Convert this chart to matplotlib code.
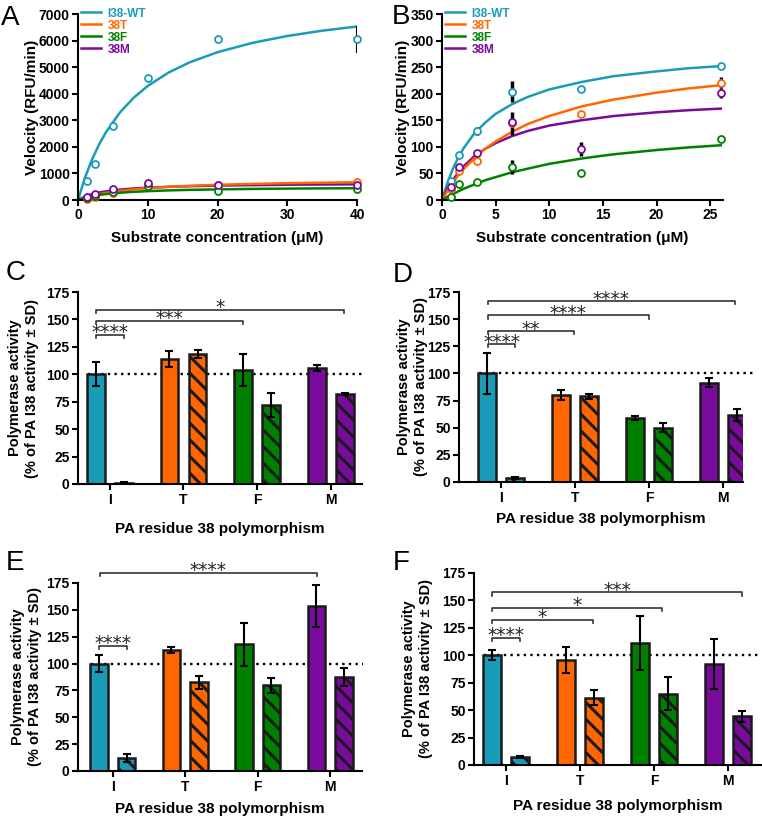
import matplotlib
matplotlib.use("Agg")
import matplotlib.pyplot as plt

W, H = 762, 824

plt.rcParams['font.family'] = ['Liberation Sans', 'DejaVu Sans']
plt.rcParams['font.weight'] = 'bold'
plt.rcParams['axes.labelweight'] = 'bold'
plt.rcParams['axes.linewidth'] = 1.5
plt.rcParams['xtick.major.width'] = 1.5
plt.rcParams['ytick.major.width'] = 1.5
plt.rcParams['xtick.major.size'] = 4
plt.rcParams['ytick.major.size'] = 4
plt.rcParams['hatch.linewidth'] = 2.2

TEAL = '#1a9bb8'
ORANGE = '#ff6600'
GREEN = '#008000'
PURPLE = '#7a0a9c'
names = ['I38-WT', '38T', '38F', '38M']
colors = [TEAL, ORANGE, GREEN, PURPLE]

# --- panel A: velocity vs substrate (RFU/min) ---
a_conc = [1.25, 2.5, 5, 10, 20, 40]
a_wt = [720, 1350, 2770, 4580, 6070, 6050]
a_38t = [40, 110, 250, 530, 564, 665]
a_38f = [60, 150, 300, 520, 350, 400]
a_38m = [100, 213, 400, 650, 560, 560]
a_err_wt = [0, 0, 0, 0, 0, 510]
a_err_none = [0, 0, 0, 0, 0, 0]
# fitted curves
a_fit_x = [0, 1, 2, 3, 4, 6, 8, 10, 13, 16, 20, 25, 30, 35, 40]
a_fit_wt = [0, 840, 1519, 2079, 2548, 3292, 3854, 4293, 4799, 5180, 5563, 5913, 6172, 6371, 6529]
a_fit_38t = [0, 89, 160, 218, 267, 343, 400, 444, 495, 533, 571, 606, 632, 651, 667]
a_fit_38f = [0, 83, 143, 188, 222, 273, 308, 333, 361, 381, 400, 417, 429, 438, 444]
a_fit_38m = [0, 130, 217, 279, 325, 390, 433, 464, 497, 520, 542, 560, 574, 583, 591]

# --- panel B ---
b_conc = [0.8125, 1.625, 3.25, 6.5, 13, 26]
b_wt = [36, 84, 130, 204, 208, 253]
b_38t = [20, 55, 74, 144, 161, 221]
b_38f = [5, 30, 33, 62, 51, 114]
b_38m = [25, 63, 89, 146, 96, 201]
b_err_wt = [0, 0, 8, 19, 0, 5]
b_err_38t = [0, 0, 0, 22, 0, 10]
b_err_38f = [0, 0, 0, 14, 0, 0]
b_err_38m = [0, 0, 0, 0, 14, 10]
b_fit_x = [0, 0.5, 1, 1.5, 2, 3, 4, 5, 6.5, 8, 10, 13, 16, 20, 23, 26]
b_fit_wt = [0, 32, 58, 79, 97, 125, 145, 162, 180, 194, 208, 222, 233, 242, 248, 252]
b_fit_38t = [0, 17, 32, 46, 58, 78, 96, 110, 128, 143, 158, 176, 189, 202, 210, 216]
b_fit_38f = [0, 6, 11, 16, 21, 29, 37, 43, 52, 59, 68, 78, 86, 94, 99, 103]
b_fit_38m = [0, 21, 37, 51, 63, 82, 96, 107, 120, 130, 140, 150, 158, 165, 169, 172]

# --- panels C-F: polymerase activity (% of PA I38) ---
groups = ['I', 'T', 'F', 'M']
c_solid = [100, 114, 104, 105.5]
c_solid_err = [11, 7.5, 14.5, 2.7]
c_hatch = [1, 118.5, 72, 82]
c_hatch_err = [0.7, 4, 11, 1]
c_comp = [(-0.19, 0.19, 136, '****'), (-0.19, 1.81, 149, '***'), (-0.19, 3.18, 159, '*')]

d_solid = [100, 80, 59, 91.5]
d_solid_err = [18.5, 4.5, 2, 4]
d_hatch = [4, 79, 50, 62]
d_hatch_err = [1, 2.5, 4.3, 5.5]
d_comp = [(-0.18, 0.19, 127, '****'), (-0.18, 0.99, 139, '**'),
          (-0.18, 2.0, 153.5, '****'), (-0.18, 3.16, 166.5, '****')]

e_solid = [100, 113, 118, 153.5]
e_solid_err = [7.6, 2.8, 20, 19.5]
e_hatch = [12, 82.5, 79.7, 87.5]
e_hatch_err = [3.7, 6.2, 7, 8.5]
e_comp = [(-0.19, 0.19, 116.7, '****'), (-0.18, 2.82, 184.3, '****')]

f_solid = [100, 95.5, 111.5, 92]
f_solid_err = [4.6, 12, 24.6, 23]
f_hatch = [7.3, 61.4, 65, 44.4]
f_hatch_err = [1.2, 6.7, 15, 5.2]
f_comp = [(-0.19, 0.19, 115.8, '****'), (-0.19, 1.18, 132.5, '*'),
          (-0.19, 2.11, 143.1, '*'), (-0.19, 3.19, 157.4, '***')]


def px_axes(fig, left, top, right, bottom):
    return fig.add_axes([left / W, 1 - bottom / H, (right - left) / W, (bottom - top) / H])


def style_axes(ax):
    for side in ['top', 'right']:
        ax.spines[side].set_visible(False)
    ax.tick_params(labelsize=10, pad=2)


def label_x(ax, px):
    # right edge of the y label block, in pixels from figure left
    pos = ax.get_position()
    return (px / W - pos.x0) / pos.width


def kinetic_panel(ax, conc, pts, errs, fit_x, fits, xlim, ylim, xstep, ystep, err_lw, ylab_px):
    order = [0, 2, 3, 1]
    lines = {}
    for i in range(4):
        ln, = ax.plot(fit_x, fits[i], color=colors[i], lw=1.8, label=names[i], zorder=2 + order[i] * 0.1)
        lines[i] = ln
    for i in range(4):
        ax.errorbar(conc, pts[i], yerr=errs[i], fmt='none', ecolor='black', elinewidth=err_lw, zorder=3)
    for i in range(4):
        ax.plot(conc, pts[i], 'o', mfc='white', mec=colors[i], ms=5, mew=1.3, zorder=4, clip_on=False)
    ax.set_xlim(*xlim)
    ax.set_ylim(*ylim)
    ax.set_xticks(range(0, int(xlim[1]) + 1, xstep))
    ax.set_yticks(range(0, ylim[1] + 1, ystep))
    style_axes(ax)
    ax.set_xlabel('Substrate concentration (\u03bcM)', fontsize=11, labelpad=6)
    ax.set_ylabel('Velocity (RFU/min)', fontsize=11)
    ax.yaxis.set_label_coords(label_x(ax, ylab_px), 0.5)
    ax.legend([lines[i] for i in range(4)], names, loc='upper left', bbox_to_anchor=(-0.005, 1.06),
              frameon=False, fontsize=8.5, handlelength=1.7, handletextpad=0.5,
              labelspacing=0.0, labelcolor='linecolor', borderaxespad=0)


def bar_panel(ax, solid, solid_err, hatch, hatch_err, comps, xlim, xlab_pad, ylab_px):
    x = list(range(len(groups)))
    ax.hlines(100, -0.3, 3.45, colors='black', linestyles=(0, (1, 1.8)), lw=1.7, zorder=1, clip_on=False)
    ekw = dict(elinewidth=1.5, capthick=1.5, capsize=3, ecolor='black', zorder=4)
    ax.bar([i - 0.19 for i in x], solid, 0.24, yerr=solid_err, color=colors,
           edgecolor='#1a1a1a', lw=1.8, error_kw=ekw, zorder=2)
    ax.bar([i + 0.19 for i in x], hatch, 0.24, yerr=hatch_err, color=colors,
           edgecolor='#1a1a1a', lw=1.8, hatch='\\\\', error_kw=ekw, zorder=2)
    for x1, x2, y, lab in comps:
        ax.plot([x1, x1, x2, x2], [y - 3, y, y, y - 3], color='#333333', lw=1.2, clip_on=False)
        ax.annotate(lab, ((x1 + x2) / 2, y), xytext=(0, -2.5), textcoords='offset points',
                    ha='center', va='baseline', fontsize=13.5, family='DejaVu Sans',
                    fontweight='normal', color='#222222', annotation_clip=False)
    ax.set_xlim(*xlim)
    ax.set_ylim(0, 175)
    ax.set_yticks(range(0, 176, 25))
    ax.set_xticks(x, groups)
    style_axes(ax)
    ax.tick_params(axis='x', length=4.5)
    ax.set_xlabel('PA residue 38 polymorphism', fontsize=11, labelpad=xlab_pad)
    ax.set_ylabel('Polymerase activity\n(% of PA I38 activity \u00b1 SD)', fontsize=10.5, linespacing=1.25)
    ax.yaxis.set_label_coords(label_x(ax, ylab_px), 0.5)


fig = plt.figure(figsize=(W / 100, H / 100), dpi=100)

ax_a = px_axes(fig, 78, 14, 357, 200)
kinetic_panel(ax_a, a_conc, [a_wt, a_38t, a_38f, a_38m],
              [a_err_wt, a_err_none, a_err_none, a_err_none], a_fit_x,
              [a_fit_wt, a_fit_38t, a_fit_38f, a_fit_38m], (0, 40), (0, 7000), 10, 1000, 1.5, 39)

ax_b = px_axes(fig, 442, 14, 723, 200)
kinetic_panel(ax_b, b_conc, [b_wt, b_38t, b_38f, b_38m],
              [b_err_wt, b_err_38t, b_err_38f, b_err_38m], b_fit_x,
              [b_fit_wt, b_fit_38t, b_fit_38f, b_fit_38m], (0, 26.2), (0, 350), 5, 50, 2.5, 410)

ax_c = px_axes(fig, 78, 292, 362, 484)
bar_panel(ax_c, c_solid, c_solid_err, c_hatch, c_hatch_err, c_comp, (-0.43, 3.42), 11, 39)

ax_d = px_axes(fig, 459, 292, 743, 482)
bar_panel(ax_d, d_solid, d_solid_err, d_hatch, d_hatch_err, d_comp, (-0.57, 3.27), 5, 428)

ax_e = px_axes(fig, 78, 583, 362, 771)
bar_panel(ax_e, e_solid, e_solid_err, e_hatch, e_hatch_err, e_comp, (-0.48, 3.44), 6, 42)

ax_f = px_axes(fig, 474, 573, 762, 765)
bar_panel(ax_f, f_solid, f_solid_err, f_hatch, f_hatch_err, f_comp, (-0.43, 3.46), 8, 433)

for letter, px, py in [('A', 1, 5), ('B', 392, 4), ('C', 6, 260), ('D', 393, 262), ('E', 6, 550), ('F', 393, 550)]:
    fig.text(px / W, 1 - py / H, letter, fontsize=20, fontweight='normal', ha='left', va='top')

fig.savefig('out.png', dpi=100)
